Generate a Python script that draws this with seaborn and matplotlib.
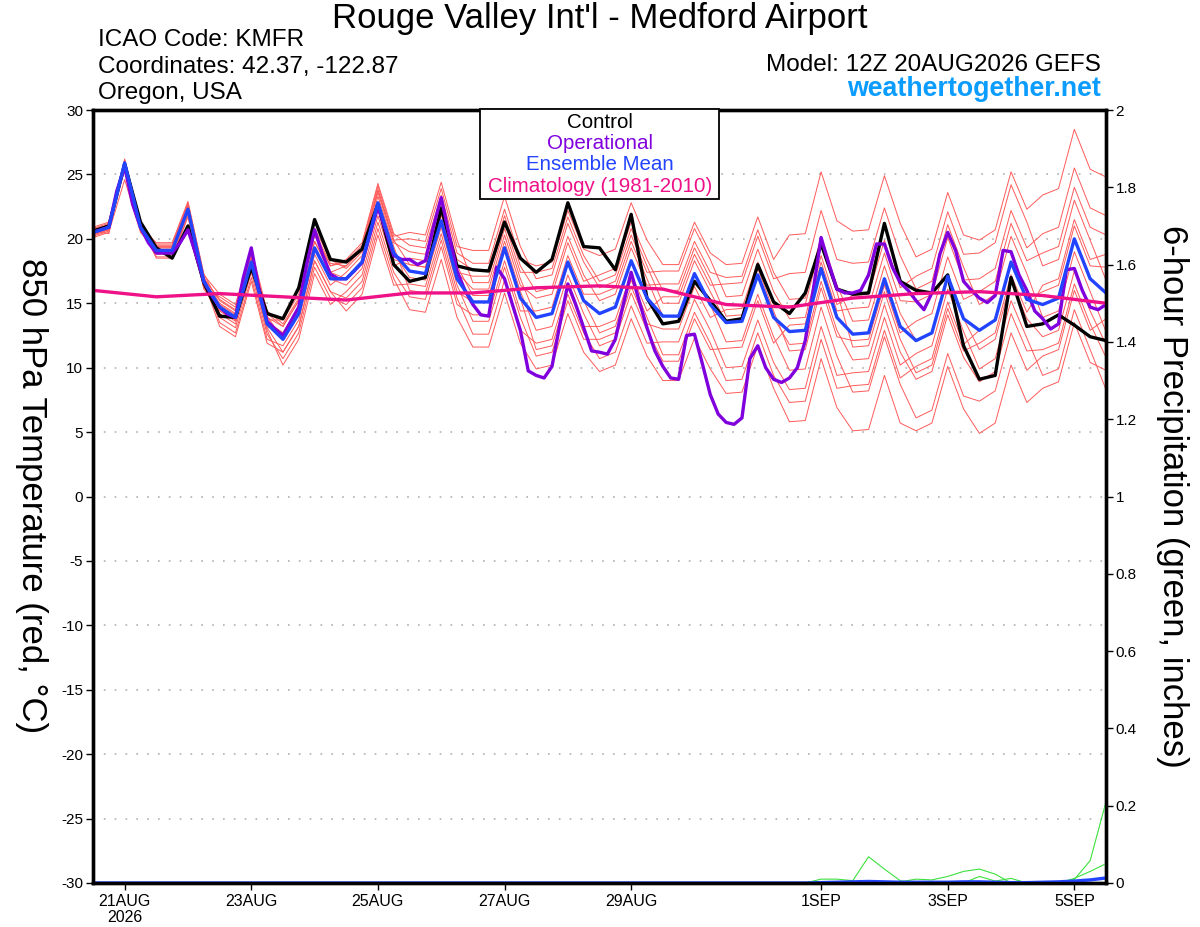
import pandas as pd
import matplotlib
matplotlib.use("Agg")
import matplotlib.pyplot as plt
import seaborn as sns
from matplotlib.patches import Rectangle

run_start = "2026-08-20 12:00"

# ensemble mean 850 hPa temperature, 6-hourly
ens_mean = [20.5, 20.9, 25.9, 20.9, 19.1, 19.1, 22.3, 16.7, 14.7, 13.9, 18.2, 13.4,
            12.2, 14.2, 19.3, 16.9, 16.9, 18.2, 22.8, 18.9, 17.5, 17.3, 21.4, 16.9,
            15.1, 15.1, 19.3, 15.4, 13.9, 14.2, 18.2, 15.2, 14.2, 14.7, 18.3, 15.4,
            14.0, 14.0, 17.3, 14.9, 13.5, 13.6, 17.2, 13.9, 12.8, 12.9, 17.7, 13.9,
            12.6, 12.7, 16.9, 13.2, 12.1, 12.7, 17.1, 13.8, 12.9, 13.7, 18.2, 15.3,
            14.9, 15.4, 20.0, 16.9, 15.8]

# control run, 6-hourly
control = [20.6, 21.0, 25.8, 21.3, 19.3, 18.5, 21.0, 16.6, 14.0, 13.9, 17.8, 14.2,
           13.8, 16.2, 21.5, 18.4, 18.2, 19.2, 22.7, 18.0, 16.7, 17.0, 22.4, 17.9,
           17.6, 17.5, 21.3, 18.5, 17.4, 18.4, 22.8, 19.4, 19.3, 17.6, 21.9, 15.4,
           13.4, 13.6, 16.7, 15.2, 13.6, 13.8, 18.0, 15.1, 14.2, 15.8, 19.6, 16.1,
           15.7, 15.8, 21.2, 16.7, 16.0, 15.8, 17.2, 11.7, 9.1, 9.4, 17.0, 13.2,
           13.4, 14.1, 13.3, 12.4, 12.1]

# operational GFS, 3-hourly
operational = [20.5, 20.7, 20.9, 23.7, 25.6, 22.7, 20.9, 19.7, 18.9, 18.9,
               18.9, 19.7, 20.7, 18.8, 16.7, 15.6, 14.7, 14.15, 13.9, 17.0,
               19.3, 16.0, 13.6, 13.0, 12.5, 13.6, 14.7, 18.0, 20.7, 18.8,
               17.25, 16.9, 16.9, 17.5, 18.15, 20.35, 22.5, 20.6, 18.7, 18.4,
               18.4, 18.0, 18.3, 20.9, 23.2, 20.3, 17.5, 16.0, 14.9, 14.1,
               14.0, 17.8, 16.9, 14.9, 12.9, 9.75, 9.4, 9.2, 10.1, 13.4,
               16.5, 14.9, 13.1, 11.3, 11.2, 11.05, 12.2, 14.9, 17.4, 15.2,
               13.1, 11.3, 10.1, 9.2, 9.1, 12.5, 12.6, 10.3, 7.9, 6.4,
               5.75, 5.6, 6.1, 10.7, 11.7, 10.0, 9.1, 8.85, 9.2, 10.0,
               12.1, 16.0, 20.1, 18.0, 16.1, 15.8, 15.8, 16.0, 17.2, 19.6,
               19.6, 17.8, 16.6, 16.0, 15.2, 14.5, 15.8, 18.8, 20.5, 19.1,
               16.7, 16.0, 15.4, 15.05, 15.6, 19.1, 19.0, 17.2, 16.0, 14.4,
               13.8, 13.0, 13.4, 17.6, 17.7, 16.0, 14.7, 14.5, 14.9]

# 1981-2010 climatology, daily at 12Z
climatology = [16.0, 15.5, 15.75, 15.5, 15.25, 15.8, 15.8, 16.2, 16.35, 16.1,
               14.9, 14.7, 15.4, 15.75, 15.9, 15.6, 15.0]

# ensemble members (6-hourly)
member_01 = [20.7, 21.1, 26.1, 21.1, 19.4, 19.4, 22.6, 17.0, 15.2, 14.4, 18.7, 13.9,
             13.2, 15.2, 20.3, 17.9, 18.4, 19.7, 24.3, 20.4, 19.5, 19.3, 23.4, 18.9,
             18.1, 18.1, 22.3, 18.4, 17.9, 18.2, 22.2, 19.2, 18.7, 19.2, 22.8, 19.9,
             18.0, 18.0, 21.3, 18.9, 18.0, 18.1, 21.7, 18.4, 20.3, 20.4, 25.2, 21.4,
             20.6, 20.7, 24.9, 21.2, 18.6, 19.2, 23.6, 20.3, 19.9, 20.7, 25.2, 22.3,
             23.4, 23.9, 28.5, 25.4, 24.8]
member_02 = [20.3, 20.7, 25.7, 20.7, 18.8, 18.8, 22.0, 16.4, 13.9, 13.1, 17.4, 12.6,
             10.7, 12.7, 17.8, 15.4, 14.9, 16.2, 20.8, 16.9, 14.5, 14.3, 18.4, 13.9,
             11.6, 11.6, 15.8, 11.9, 9.9, 10.2, 14.2, 11.2, 9.7, 10.2, 13.8, 10.9,
             9.0, 9.0, 12.3, 9.9, 8.0, 8.1, 11.7, 8.4, 5.8, 5.9, 10.7, 6.9,
             5.1, 5.2, 9.4, 5.7, 5.1, 5.7, 10.1, 6.8, 4.9, 5.7, 10.2, 7.3,
             8.4, 8.9, 13.5, 10.4, 9.8]
member_03 = [20.8, 21.2, 26.2, 21.2, 19.6, 19.6, 22.8, 17.2, 15.7, 14.9, 19.2, 14.4,
             13.4, 15.4, 20.5, 18.1, 17.9, 19.2, 23.8, 19.9, 18.0, 17.8, 21.9, 17.4,
             17.1, 17.1, 21.3, 17.4, 17.4, 17.7, 21.7, 18.7, 16.7, 17.2, 20.8, 17.9,
             15.0, 15.0, 18.3, 15.9, 13.5, 13.6, 17.2, 13.9, 11.8, 11.9, 16.7, 12.9,
             10.6, 10.7, 14.9, 11.2, 9.1, 9.7, 14.1, 10.8, 8.9, 9.7, 14.2, 11.3,
             11.4, 11.9, 16.5, 13.4, 10.8]
member_04 = [20.2, 20.6, 25.6, 20.6, 19.3, 19.3, 22.5, 16.9, 14.2, 13.4, 17.7, 12.9,
             10.2, 12.2, 17.3, 14.9, 15.9, 17.2, 21.8, 17.9, 18.5, 18.3, 22.4, 17.9,
             15.6, 15.6, 19.8, 15.9, 12.9, 13.2, 17.2, 14.2, 11.7, 12.2, 15.8, 12.9,
             10.5, 10.5, 13.8, 11.4, 11.5, 11.6, 15.2, 11.9, 13.3, 13.4, 18.2, 14.4,
             14.6, 14.7, 18.9, 15.2, 15.1, 15.7, 20.1, 16.8, 16.9, 17.7, 22.2, 19.3,
             20.4, 20.9, 25.5, 22.4, 21.8]
member_05 = [20.6, 20.4, 26.0, 21.0, 18.6, 18.6, 21.8, 16.2, 15.5, 14.7, 19.0, 14.2,
             13.2, 15.2, 20.3, 17.9, 18.2, 19.5, 24.1, 20.2, 20.5, 20.3, 24.4, 19.9,
             16.6, 16.6, 20.8, 16.9, 13.9, 14.2, 18.2, 15.2, 12.7, 13.2, 16.8, 13.9,
             11.0, 11.0, 14.3, 11.9, 9.0, 9.1, 12.7, 9.4, 7.3, 7.4, 12.2, 8.4,
             8.6, 8.7, 12.9, 9.2, 10.1, 10.7, 15.1, 11.8, 12.9, 13.7, 18.2, 15.3,
             15.9, 16.4, 21.0, 17.9, 17.8]
member_06 = [20.4, 20.8, 25.8, 20.8, 19.5, 19.5, 22.7, 17.1, 13.5, 12.7, 17.0, 12.2,
             11.7, 13.7, 18.8, 16.4, 17.4, 18.7, 23.3, 19.4, 16.0, 15.8, 19.9, 15.4,
             12.6, 12.6, 16.8, 12.9, 11.9, 12.2, 16.2, 13.2, 13.2, 13.7, 17.3, 14.4,
             15.5, 15.5, 18.8, 16.4, 16.5, 16.6, 20.2, 16.9, 17.3, 17.4, 22.2, 18.4,
             18.1, 18.2, 22.4, 18.7, 16.1, 16.7, 21.1, 17.8, 14.9, 15.7, 20.2, 17.3,
             13.9, 14.4, 19.0, 15.9, 12.8]
member_07 = [20.9, 21.3, 25.3, 21.3, 18.9, 18.9, 22.1, 16.5, 15.0, 14.2, 18.5, 13.7,
             13.7, 15.7, 20.8, 18.4, 17.7, 19.0, 23.6, 19.7, 19.0, 18.8, 22.9, 18.4,
             17.6, 17.6, 21.8, 17.9, 15.9, 16.2, 20.2, 17.2, 15.2, 15.7, 19.3, 16.4,
             16.5, 16.5, 19.8, 17.4, 17.0, 17.1, 20.7, 17.4, 15.3, 15.4, 20.2, 16.4,
             13.6, 13.7, 17.9, 14.2, 12.1, 12.7, 17.1, 13.8, 11.4, 12.2, 16.7, 13.8,
             12.4, 12.9, 17.5, 14.4, 11.8]
member_08 = [20.1, 20.5, 24.6, 20.5, 19.1, 19.1, 22.3, 16.7, 13.2, 12.4, 16.7, 11.9,
             11.2, 13.2, 18.3, 15.9, 15.4, 16.7, 21.3, 17.4, 15.5, 15.3, 19.4, 14.9,
             14.1, 14.1, 18.3, 14.4, 14.4, 14.7, 18.7, 15.7, 15.7, 16.2, 19.8, 16.9,
             14.0, 14.0, 17.3, 14.9, 12.0, 12.1, 15.7, 12.4, 9.8, 9.9, 14.7, 10.9,
             8.1, 8.2, 12.4, 8.7, 6.1, 6.7, 11.1, 7.8, 7.4, 8.2, 12.7, 9.8,
             10.9, 11.4, 16.0, 12.9, 13.8]
member_09 = [20.5, 20.9, 25.9, 20.9, 19.7, 19.7, 22.9, 17.3, 14.9, 14.1, 18.4, 13.6,
             12.7, 14.7, 19.8, 17.4, 17.9, 19.2, 23.8, 19.9, 20.0, 19.8, 23.9, 19.4,
             19.1, 19.1, 23.3, 19.4, 16.9, 17.2, 21.2, 18.2, 16.2, 16.7, 20.3, 17.4,
             17.5, 17.5, 20.8, 18.4, 15.5, 15.6, 19.2, 15.9, 13.8, 13.9, 18.7, 14.9,
             15.6, 15.7, 19.9, 16.2, 17.1, 17.7, 22.1, 18.8, 18.9, 19.7, 24.2, 21.3,
             17.9, 18.4, 23.0, 19.9, 16.8]
member_10 = [20.7, 21.1, 26.1, 21.1, 18.5, 18.5, 21.7, 16.1, 14.4, 13.6, 17.9, 13.1,
             11.2, 13.2, 18.3, 15.9, 14.4, 15.7, 20.3, 16.4, 16.5, 16.3, 20.4, 15.9,
             15.1, 15.1, 19.3, 15.4, 11.4, 11.7, 15.7, 12.7, 10.7, 11.2, 14.8, 11.9,
             12.0, 12.0, 15.3, 12.9, 10.0, 10.1, 13.7, 10.4, 8.3, 8.4, 13.2, 9.4,
             9.6, 9.7, 13.9, 10.2, 11.1, 11.7, 16.1, 12.8, 9.9, 10.7, 15.2, 12.3,
             9.4, 9.9, 14.5, 11.4, 8.3]
member_11 = [20.3, 20.7, 25.7, 20.7, 19.3, 19.3, 22.5, 16.9, 15.3, 14.5, 18.8, 14.0,
             12.2, 14.2, 19.3, 16.9, 16.4, 17.7, 22.3, 18.4, 18.0, 17.8, 21.9, 17.4,
             16.1, 16.1, 20.3, 16.4, 15.4, 15.7, 19.7, 16.7, 17.2, 17.7, 21.3, 18.4,
             16.0, 16.0, 19.3, 16.9, 14.0, 14.1, 17.7, 14.4, 11.3, 11.4, 16.2, 12.4,
             12.1, 12.2, 16.4, 12.7, 13.6, 14.2, 18.6, 15.3, 15.9, 16.7, 21.2, 18.3,
             18.9, 19.4, 24.0, 20.9, 20.3]
member_12 = [20.6, 21.0, 26.0, 21.0, 18.9, 18.9, 22.1, 16.5, 14.5, 13.7, 18.0, 13.2,
             12.7, 14.7, 19.8, 17.4, 16.9, 18.2, 22.8, 18.9, 17.0, 16.8, 20.9, 16.4,
             13.6, 13.6, 17.8, 13.9, 10.9, 11.2, 15.2, 12.2, 12.2, 12.7, 16.3, 13.4,
             13.0, 13.0, 16.3, 13.9, 14.5, 14.6, 18.2, 14.9, 14.8, 14.9, 19.7, 15.9,
             11.6, 11.7, 15.9, 12.2, 9.6, 10.2, 14.6, 11.3, 11.9, 12.7, 17.2, 14.3,
             16.4, 16.9, 21.5, 18.4, 18.8]
members = [member_01, member_02, member_03, member_04, member_05, member_06,
           member_07, member_08, member_09, member_10, member_11, member_12]

# 6-hour precipitation (inches) of the few wet members, plus the mean
precip_01 = [0.0] * 45 + [0.0, 0.01, 0.01, 0.006, 0.068, 0.036, 0.006] + [0.0] * 13
precip_02 = [0.0] * 51 + [0.003, 0.01, 0.008, 0.017, 0.03, 0.036, 0.023, 0.0] + [0.0] * 6
precip_03 = [0.0] * 55 + [0.0, 0.017, 0.005, 0.012, 0.0] + [0.0] * 5
precip_04 = [0.0] * 61 + [0.0, 0.009, 0.058, 0.21]
precip_05 = [0.0] * 61 + [0.0, 0.012, 0.03, 0.05]
precip_members = [precip_01, precip_02, precip_03, precip_04, precip_05]
precip_mean = [0.0] * 46 + [0.001, 0.002, 0.003, 0.004, 0.003, 0.002, 0.002, 0.002,
                            0.002, 0.003, 0.003, 0.002, 0.001, 0.001, 0.002, 0.003,
                            0.005, 0.008, 0.013]

tick_dates = ["2026-08-21", "2026-08-23", "2026-08-25", "2026-08-27",
              "2026-08-29", "2026-09-01", "2026-09-03", "2026-09-05"]
tick_labels = ["21AUG\n2026", "23AUG", "25AUG", "27AUG", "29AUG", "1SEP", "3SEP", "5SEP"]
temp_ticks = list(range(-30, 31, 5))
precip_ticks = [0, 0.2, 0.4, 0.6, 0.8, 1, 1.2, 1.4, 1.6, 1.8, 2]

# -------------------- time axes --------------------
times = pd.date_range(run_start, periods=len(ens_mean), freq="6h")
op_times = pd.date_range(run_start, periods=len(operational), freq="3h")
clim_times = pd.date_range(run_start, periods=len(climatology), freq="24h")

rows = []
for k, m in enumerate(members):
    for t, v in zip(times, m):
        rows.append((k, t, v))
df_members = pd.DataFrame(rows, columns=["member", "time", "temp"])

rows = []
for k, p in enumerate(precip_members):
    for t, v in zip(times, p):
        rows.append((k, t, v))
df_precip = pd.DataFrame(rows, columns=["member", "time", "precip"])

# -------------------- Plot --------------------
sns.set_style("white")
plt.rcParams["font.family"] = ["Liberation Sans", "DejaVu Sans"]
plt.rcParams["text.color"] = "black"
plt.rcParams["axes.labelcolor"] = "black"
plt.rcParams["xtick.color"] = "black"
plt.rcParams["ytick.color"] = "black"

W, H = 1200, 927
fig = plt.figure(figsize=(12, 9.27), dpi=100)
L, R, T, B = 93, 1106, 110, 883
ax = fig.add_axes([L / W, 1 - B / H, (R - L) / W, (B - T) / H])
ax2 = ax.twinx()

RED = "#ff5a5a"
GREEN = "#3ee03e"
BLACK = "#000000"
PURPLE = "#8000dd"
BLUE = "#2244ff"
PINK = "#ee1188"

sns.lineplot(data=df_members, x="time", y="temp", units="member", estimator=None,
             color=RED, lw=0.7, ax=ax, legend=False, zorder=2)
sns.lineplot(x=times, y=control, color=BLACK, lw=2.4, ax=ax, zorder=3)
sns.lineplot(x=op_times, y=operational, color=PURPLE, lw=2.4, ax=ax, zorder=4)
sns.lineplot(x=times, y=ens_mean, color=BLUE, lw=2.4, ax=ax, zorder=5)
sns.lineplot(x=clim_times, y=climatology, color=PINK, lw=2.4, ax=ax, zorder=6)

sns.lineplot(data=df_precip, x="time", y="precip", units="member", estimator=None,
             color=GREEN, lw=0.8, ax=ax2, legend=False)
sns.lineplot(x=times, y=precip_mean, color=BLUE, lw=2.4, ax=ax2)

ax.set_xlim(times[0], times[-1])
ax.set_ylim(-30, 30)
ax2.set_ylim(0, 2)

ax.set_yticks(temp_ticks)
ax.set_yticklabels([str(v) for v in temp_ticks])
ax2.set_yticks(precip_ticks)
ax2.set_yticklabels([f"{v:g}" for v in precip_ticks])
ax.set_xticks(pd.to_datetime(tick_dates))
ax.set_xticklabels(tick_labels, linespacing=1.05)

ax.grid(axis="y", color="#b0b0b0", lw=1.2, linestyle=(0, (1, 5.5)))
ax.grid(axis="x", visible=False)
ax.set_axisbelow(True)

ax.set_xlabel("")
ax.set_ylabel("")
ax2.set_xlabel("")
ax2.set_ylabel("")

ax.tick_params(axis="y", direction="out", length=5, width=1, labelsize=11, pad=2,
               left=True)
ax.tick_params(axis="x", direction="out", length=5, width=1, labelsize=11.5, pad=3,
               bottom=True)
ax2.tick_params(axis="y", direction="out", length=5, width=1, labelsize=11, pad=2,
                right=True)

for a in (ax, ax2):
    for s in a.spines.values():
        s.set_linewidth(2.4)
        s.set_color("black")

# -------------------- texts --------------------
fig.text(0.5, 1 - 28 / H, "Rouge Valley Int'l - Medford Airport", ha="center",
         va="baseline", fontsize=25)
fig.text(98 / W, 1 - 46 / H, "ICAO Code: KMFR", ha="left", va="baseline", fontsize=17.5)
fig.text(98 / W, 1 - 72.5 / H, "Coordinates: 42.37, -122.87", ha="left", va="baseline",
         fontsize=17.5)
fig.text(98 / W, 1 - 99 / H, "Oregon, USA", ha="left", va="baseline", fontsize=17.5)
fig.text(1101 / W, 1 - 71 / H, "Model: 12Z 20AUG2026 GEFS", ha="right", va="baseline",
         fontsize=17.5)
fig.text(1101 / W, 1 - 96.5 / H, "weathertogether.net", ha="right", va="baseline",
         fontsize=19.3, fontweight="bold", color="#0a9cff")

fig.text(31 / W, 1 - 496 / H, "850 hPa Temperature (red, °C)", rotation=270,
         ha="center", va="center", fontsize=25)
fig.text(1172 / W, 1 - 496 / H, "6-hour Precipitation (green, inches)", rotation=270,
         ha="center", va="center", fontsize=25)

# legend box
fig.patches.append(Rectangle((480 / W, 1 - 199 / H), (719 - 480) / W, (199 - 109) / H,
                             transform=fig.transFigure, facecolor="white",
                             edgecolor="black", lw=1.3, zorder=5))
legend_items = [("Control", BLACK), ("Operational", PURPLE),
                ("Ensemble Mean", BLUE), ("Climatology (1981-2010)", PINK)]
for k, (lab, col) in enumerate(legend_items):
    fig.text(600 / W, 1 - (127.5 + 21.5 * k) / H, lab, ha="center", va="baseline",
             fontsize=14.8, color=col, zorder=6)

fig.savefig("out.png", dpi=100)
